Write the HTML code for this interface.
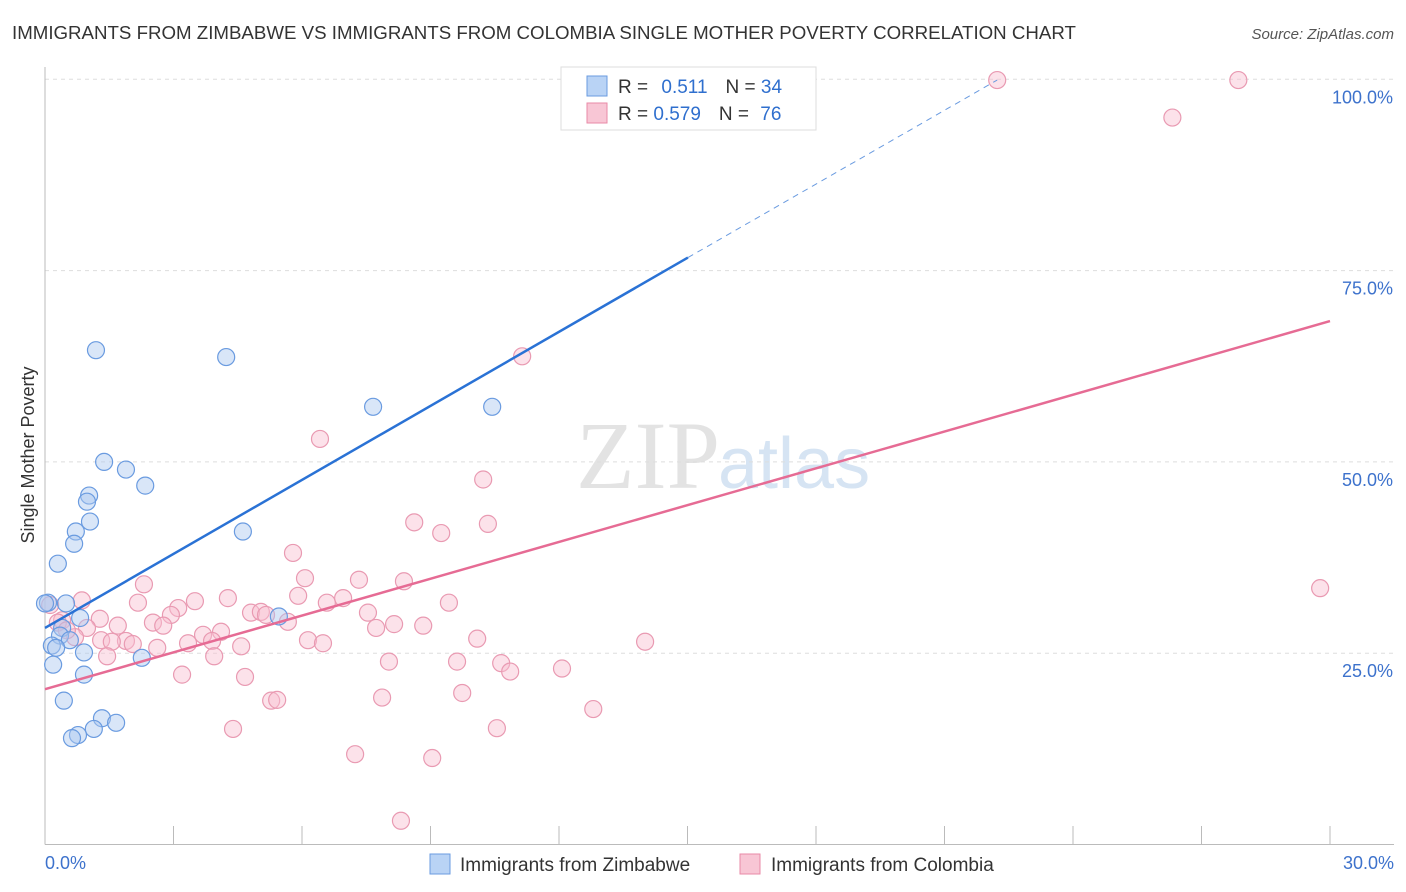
<!DOCTYPE html>
<html><head><meta charset="utf-8">
<style>
body{margin:0;background:#fff;font-family:"Liberation Sans",sans-serif;}
#wrap{position:relative;width:1406px;height:892px;overflow:hidden;}
</style></head>
<body>
<div id="wrap">
<svg id="svg" width="1406" height="892" xmlns="http://www.w3.org/2000/svg">
<text x="12" y="39" font-size="18.7" fill="#333">IMMIGRANTS FROM ZIMBABWE VS IMMIGRANTS FROM COLOMBIA SINGLE MOTHER POVERTY CORRELATION CHART</text>
<text x="1394" y="39" font-size="15" fill="#555" font-style="italic" text-anchor="end">Source: ZipAtlas.com</text>
<text x="720" y="488" font-size="96" fill="#e3e3e3" font-family="Liberation Serif,serif" text-anchor="end">ZIP</text>
<text x="718" y="488" font-size="72" fill="#d6e4f3">atlas</text>
<text transform="translate(34,455) rotate(-90)" font-size="18" fill="#333" text-anchor="middle">Single Mother Poverty</text>
<g id="grid"></g><g id="marks"></g>
<g>
<rect x="561" y="67" width="255" height="63" fill="#fff" stroke="#ddd"/>
<rect x="587" y="76" width="20" height="20" fill="#b9d3f5" stroke="#6a9be0"/>
<rect x="587" y="103" width="20" height="20" fill="#f8c6d5" stroke="#e98aa7"/>
<text x="618" y="93" font-size="19" fill="#333">R = <tspan fill="#2f6fce" dx="8">0.511</tspan><tspan dx="18" fill="#333">N = </tspan><tspan fill="#2f6fce">34</tspan></text>
<text x="618" y="120" font-size="19" fill="#333">R = <tspan fill="#2f6fce">0.579</tspan><tspan dx="18" fill="#333">N = </tspan><tspan fill="#2f6fce" dx="6">76</tspan></text>
</g>
<g>
<rect x="430" y="854" width="20" height="20" fill="#b9d3f5" stroke="#6a9be0"/>
<text x="460" y="871" font-size="19" fill="#333">Immigrants from Zimbabwe</text>
<rect x="740" y="854" width="20" height="20" fill="#f8c6d5" stroke="#e98aa7"/>
<text x="771" y="871" font-size="19" fill="#333">Immigrants from Colombia</text>
</g>
</svg>
</div>
<script>
const yTicks=[25,50,75,100];
const yTickLabels=["25.0%","50.0%","75.0%","100.0%"];
const xTickLabels=["0.0%","30.0%"];
const zimX=[1.19,4.23,7.66,10.44,1.38,1.89,2.34,1.03,0.98,1.05,0.72,4.62,0.68,0.30,0.07,0.49,0.82,5.46,0.40,0.35,0.58,0.16,0.26,0.91,2.26,0.19,0.91,0.44,1.33,1.66,1.14,0.77,0.63,0.0];
const zimY=[64.6,63.7,57.2,57.2,50.0,49.0,46.9,45.6,44.8,42.2,40.9,40.9,39.3,36.7,31.6,31.5,29.6,29.8,28.3,27.3,26.7,26.0,25.7,25.1,24.4,23.5,22.2,18.8,16.5,15.9,15.1,14.3,13.9,31.5];
const colX=[22.23,27.86,26.32,11.14,6.42,10.23,8.62,10.34,9.25,5.79,29.77,14.01,2.31,6.07,7.33,8.38,0.86,2.17,3.50,4.27,5.91,6.58,6.96,9.43,3.11,2.94,4.81,5.04,5.16,7.54,2.52,2.76,5.67,7.73,8.15,8.83,1.28,0.40,0.98,1.70,3.69,4.11,3.90,10.09,6.14,6.49,1.31,1.89,1.56,2.05,2.62,3.34,4.58,1.45,3.95,8.03,9.62,10.65,10.86,12.07,3.20,4.67,9.74,5.28,5.42,7.87,12.80,4.39,10.55,7.24,9.04,8.31,0.70,0.30,0.12,0.51];
const colY=[99.9,99.9,95.0,63.8,53.0,47.7,42.1,41.9,40.7,38.1,33.5,26.5,34.0,34.8,34.6,34.4,31.9,31.6,31.8,32.2,32.5,31.6,32.2,31.6,30.9,30.0,30.3,30.4,30.0,30.3,29.0,28.6,29.1,28.3,28.8,28.6,29.5,29.3,28.3,28.6,27.4,27.8,26.6,26.9,26.7,26.3,26.7,26.6,26.5,26.2,25.7,26.3,25.9,24.6,24.6,23.9,23.9,23.7,22.6,23.0,22.2,21.9,19.8,18.8,18.9,19.2,17.7,15.1,15.2,11.8,11.3,3.1,27.1,29.0,31.3,28.0];
const zimTrend=[[0,28.3],[15.01,76.7],[22.23,99.9]];
const colTrend=[[0,20.3],[30,68.4]];
const NS="http://www.w3.org/2000/svg";
const xs=v=>45+v/30*1285;
const ys=v=>844.5-v/25*191.3;
function mk(tag,at,parent){const e=document.createElementNS(NS,tag);for(const k in at)e.setAttribute(k,at[k]);parent.appendChild(e);return e;}
const grid=document.getElementById('grid'),marks=document.getElementById('marks');
yTicks.forEach((t,i)=>{
 const l=mk('line',{x1:45,x2:1394,y1:ys(t),y2:ys(t),stroke:'#ddd','stroke-dasharray':'4,4'},grid);
 
 
 const tx=mk('text',{x:1393,y:ys(t)+24,'font-size':18,fill:'#3d72cc','text-anchor':'end'},grid);
 tx.textContent=yTickLabels[i];
 
 
});
const ax=mk('line',{x1:45,x2:1394,y1:844.5,y2:844.5,stroke:'#bbb'},grid);


const ay=mk('line',{x1:45,x2:45,y1:67,y2:844.5,stroke:'#bbb'},grid);


for(let i=0;i<=10;i++){const t=mk('line',{x1:xs(i*3),x2:xs(i*3),y1:826,y2:844.5,stroke:'#bbb'},grid);
 
 }
[[0,'start',45],[1,'end',1394]].forEach(([i,a,x])=>{const t=mk('text',{x:x,y:869,'font-size':18,fill:'#3d72cc','text-anchor':a},grid);t.textContent=xTickLabels[i];
 
 });
colX.forEach((x,i)=>{const c=mk('circle',{cx:xs(x),cy:ys(colY[i]),r:8.5,fill:'rgba(248,190,208,0.45)',stroke:'#e99ab2','stroke-width':1.2},marks);
 
 });
zimX.forEach((x,i)=>{const c=mk('circle',{cx:xs(x),cy:ys(zimY[i]),r:8.5,fill:'rgba(170,200,240,0.45)',stroke:'#6a9be0','stroke-width':1.2},marks);
 
 });
const l1=mk('line',{x1:xs(zimTrend[0][0]),y1:ys(zimTrend[0][1]),x2:xs(zimTrend[1][0]),y2:ys(zimTrend[1][1]),stroke:'#2a72d5','stroke-width':2.5},marks);


const l2=mk('line',{x1:xs(zimTrend[1][0]),y1:ys(zimTrend[1][1]),x2:xs(zimTrend[2][0]),y2:ys(zimTrend[2][1]),stroke:'#6a9be0','stroke-width':1,'stroke-dasharray':'6,5'},marks);


const l3=mk('line',{x1:xs(colTrend[0][0]),y1:ys(colTrend[0][1]),x2:xs(colTrend[1][0]),y2:ys(colTrend[1][1]),stroke:'#e66b94','stroke-width':2.5},marks);


</script>
</body></html>
